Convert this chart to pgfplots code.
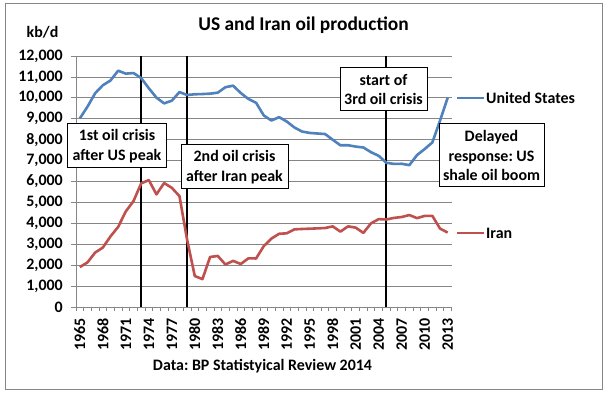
\documentclass[border=0pt]{standalone}
\usepackage{pgfplots}
\pgfplotsset{compat=1.18}
\usepackage{fontspec}
\setmainfont{Carlito}
\frenchspacing
\definecolor{usblue}{HTML}{4F81BD}
\definecolor{iranred}{HTML}{C0504D}
\definecolor{gridgray}{HTML}{868686}
\pgfplotstableread{
year us iran
1965 9014 1908
1966 9579 2132
1967 10219 2603
1968 10600 2840
1969 10828 3375
1970 11297 3829
1971 11156 4572
1972 11185 5059
1973 10946 5908
1974 10461 6067
1975 10008 5385
1976 9736 5926
1977 9863 5698
1978 10274 5302
1979 10136 3216
1980 10170 1479
1981 10181 1335
1982 10199 2392
1983 10247 2441
1984 10509 2032
1985 10580 2205
1986 10231 2057
1987 9944 2327
1988 9765 2320
1989 9159 2910
1990 8914 3270
1991 9076 3500
1992 8868 3523
1993 8583 3712
1994 8389 3730
1995 8322 3744
1996 8295 3759
1997 8269 3776
1998 7997 3855
1999 7731 3603
2000 7733 3855
2001 7669 3794
2002 7626 3543
2003 7400 4002
2004 7228 4201
2005 6895 4184
2006 6841 4260
2007 6847 4303
2008 6783 4396
2009 7263 4249
2010 7552 4356
2011 7868 4358
2012 8905 3751
2013 10003 3558
}\datatable
\begin{document}
\begin{tikzpicture}[font=\fontsize{16}{20}\selectfont\bfseries]
\path[use as bounding box] (-76bp,-89bp) rectangle (534bp,307bp);
\fill[white] (-76bp,-89bp) rectangle (534bp,307bp);
\draw[gridgray, line width=1bp] (-70bp,-82bp) rectangle (526bp,303bp);
\begin{axis}[
  at={(0,0)}, anchor=origin,
  scale only axis, width=375.5bp, height=251bp,
  xmin=1964.5, xmax=2013.5, ymin=0, ymax=12000,
  axis x line=bottom, axis y line=left,
  axis line style={gridgray, line width=0.8bp, -},
  xtick={1965,1968,...,2013},
  minor xtick={1964.5,1965.5,...,2013.5},
  major x tick style={draw=none},
  minor x tick style={gridgray, line width=0.8bp},
  minor tick length=4bp,
  ytick={0,1000,...,12000},
  scaled y ticks=false,
  major tick length=5bp,
  y tick style={gridgray, line width=0.8bp},
  tick align=outside,
  ymajorgrids, grid style={gridgray, line width=0.8bp},
  xticklabel style={rotate=90, anchor=east, inner sep=0pt, xshift=-6bp},
  xticklabel={\pgfmathprintnumber[1000 sep={}]{\tick}},
  yticklabel style={anchor=east, inner sep=0pt, xshift=-8bp},
  yticklabel={\pgfmathprintnumber[1000 sep={,}]{\tick}},
  /pgf/number format/assume math mode=true,
  clip=false,
]
\addplot[black, line width=2bp, forget plot] coordinates {(1973,0) (1973,12000)};
\addplot[black, line width=2bp, forget plot] coordinates {(1979,0) (1979,12000)};
\addplot[black, line width=2bp, forget plot] coordinates {(2005,0) (2005,12000)};
\addplot[usblue, line width=2.6bp, line join=round] table[x=year, y=us] {\datatable};
\addplot[iranred, line width=2.6bp, line join=round] table[x=year, y=iran] {\datatable};
\end{axis}
\tikzset{box/.style={draw=black, line width=1bp, fill=white, align=center, inner sep=0pt}}
\node[box, minimum width=98bp, minimum height=44bp] at (41bp,161bp) {1st oil crisis\\after US peak};
\node[box, minimum width=107bp, minimum height=44bp] at (158.5bp,140bp) {2nd oil crisis\\after Iran peak};
\node[box, minimum width=87bp, minimum height=43bp] at (307.5bp,217.5bp) {start of\\3rd oil crisis};
\node[box, minimum width=105bp, minimum height=63bp] at (415.5bp,151.5bp) {Delayed\\response: US\\shale oil boom};
\draw[usblue, line width=2.6bp] (381bp,209bp) -- (408bp,209bp);
\node[anchor=west, inner sep=0pt] at (410bp,209bp) {United States};
\draw[iranred, line width=2.6bp] (381bp,74bp) -- (408bp,74bp);
\node[anchor=west, inner sep=0pt] at (410bp,74bp) {Iran};
\node[font=\fontsize{19.5}{23}\selectfont\bfseries] at (227.5bp,282bp) {US and Iran oil production};
\node at (-33.5bp,275bp) {kb/d};
\node at (186.5bp,-58.7bp) {Data: BP Statistyical Review 2014};
\end{tikzpicture}
\end{document}
